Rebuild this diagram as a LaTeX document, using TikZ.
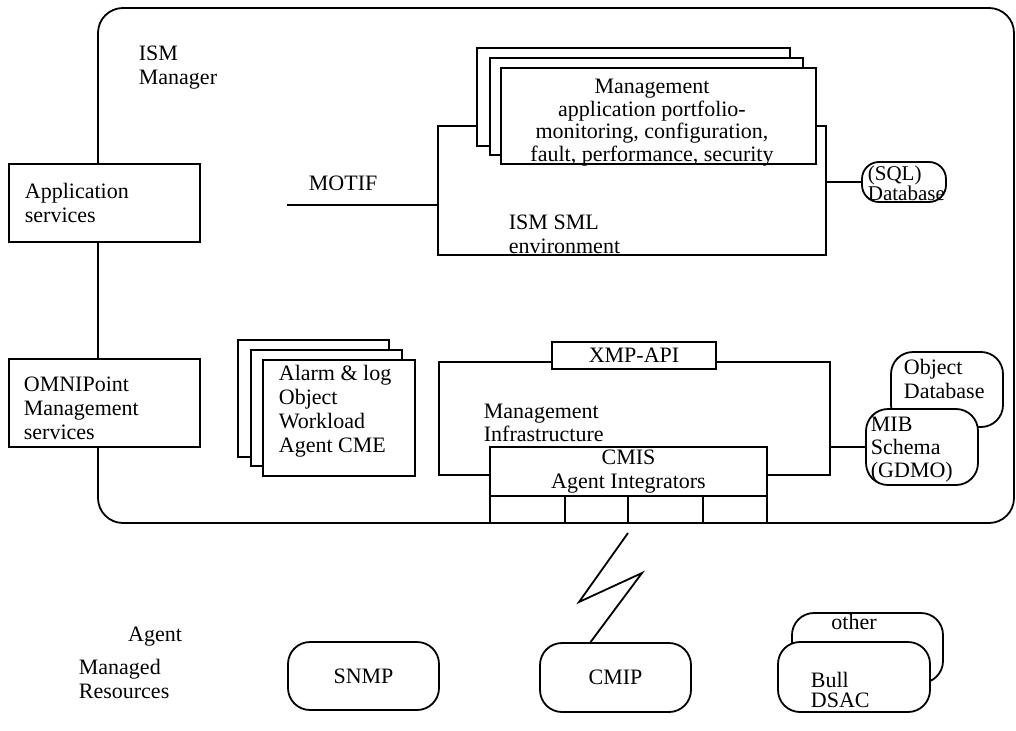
\documentclass[tikz,border=0pt]{standalone}
\usepackage{fontspec}
\setmainfont{Liberation Serif}

\tikzset{
  blk/.style={draw, fill=white, inner sep=0pt},
  rnd/.style={draw, fill=white, inner sep=0pt, rounded corners=22pt},
  txt/.style={inner sep=0pt, align=left},
}

\begin{document}
\begin{tikzpicture}[x=1pt, y=-1pt, line width=1.8pt, every node/.append style={font=\fontsize{22}{24}\selectfont}]
\useasboundingbox (0,0) rectangle (1016,730);

% manager frame
\draw[rounded corners=25pt] (98,8) rectangle (1014,523);
\node[txt, anchor=west] (ismmgr) at (138,67.5) {ISM\\Manager};

% services on the left
\node[blk, minimum width=191pt, minimum height=78pt] (appsrv) at (104.5,203) {};
\node[txt, anchor=west] (apptxt) at (24,202.5) {Application\\services};
\node[blk, minimum width=191pt, minimum height=88pt] (omnisrv) at (104.5,403) {};
\node[txt, anchor=west] (omnitxt) at (23,408) {OMNIPoint\\Management\\services};

% SML environment + portfolio stack
\node[blk, minimum width=387.5pt, minimum height=129pt] (smlenv) at (632,190.5) {};
\node[txt, anchor=west] (smltxt) at (508,234.5) {ISM SML\\environment};
\node[blk, minimum width=313pt, minimum height=98pt] (port3) at (633.5,97) {};
\node[blk, minimum width=313pt, minimum height=97pt] (port2) at (646.5,106.5) {};
\node[blk, minimum width=315pt, minimum height=96pt] (port1) at (658.5,116) {};
\node[txt, align=center, font=\fontsize{22}{22.5}\selectfont] (porttxt) at (652,122.5) {Management\\application portfolio-\\monitoring, configuration,\\fault, performance, security};

\node[txt, anchor=west] (motif) at (308,183) {MOTIF};
\coordinate (motifend) at (287,205);
\draw (motifend) -- (motifend -| smlenv.west);

\node[rnd, rounded corners=17pt, minimum width=84pt, minimum height=40pt] (sqldb) at (904,182) {};
\node[txt, anchor=west, font=\fontsize{21}{20}\selectfont] (sqltxt) at (867,183) {(SQL)\\Database};
\draw (smlenv.east |- sqldb.west) -- (sqldb.west);

% alarm stack
\node[blk, minimum width=151pt, minimum height=117pt] (alarm3) at (313.5,398.5) {};
\node[blk, minimum width=151pt, minimum height=116pt] (alarm2) at (326.5,408) {};
\node[blk, minimum width=152pt, minimum height=116pt] (alarm1) at (339,418) {};
\node[txt, anchor=west] (alarmtxt) at (278,411) {Alarm \& log\\Object\\Workload\\Agent CME};

% management infrastructure
\node[blk, minimum width=391pt, minimum height=113pt] (mgmtinfra) at (634.5,418.5) {};
\node[txt, anchor=west, font=\fontsize{22}{23}\selectfont] (infratxt) at (483,423) {Management\\Infrastructure};
\node[blk, minimum width=164pt, minimum height=27pt] (xmpapi) at (634,355.5) {XMP-API};
\node[blk, minimum width=277pt, minimum height=49pt, align=center] (cmis) at (628.5,471.5) {CMIS\\Agent Integrators};
\foreach \cx/\cw [count=\i] in {527.5/75pt, 596.5/63pt, 665.5/75pt, 735/64pt}
  \node[blk, minimum width=\cw, minimum height=27pt] (cell\i) at (\cx,509.5) {};

% MIB and object database
\node[rnd, minimum width=112pt, minimum height=75pt] (objdb) at (947,389.5) {};
\node[txt, anchor=west] (objtxt) at (903,378.5) {Object\\Database};
\node[rnd, minimum width=112pt, minimum height=76pt] (mib) at (922,447) {};
\node[txt, anchor=west, font=\fontsize{22}{23}\selectfont] (mibtxt) at (870,450) {MIB\\Schema\\(GDMO)};
\draw (mgmtinfra.east |- mib.west) -- (mib.west);

% agents
\node[txt] (agent) at (155,637) {Agent};
\node[txt, anchor=west] (managed) at (78,679) {Managed\\Resources};
\node[rnd, minimum width=151pt, minimum height=68pt] (snmp) at (363.5,676) {SNMP};
\node[rnd, minimum width=151pt, minimum height=69pt] (cmip) at (615.5,677.5) {CMIP};
\node[rnd, minimum width=151pt, minimum height=70pt] (other) at (867.5,648) {};
\node[txt] (othertxt) at (854,622) {other};
\node[rnd, minimum width=152pt, minimum height=70pt] (bull) at (854,677) {};
\node[txt, anchor=west, font=\fontsize{22}{20}\selectfont] (bulltxt) at (810,690) {Bull\\DSAC};

% link to CMIP agent
\coordinate (bolttop) at (628,533);
\draw (bolttop) -- (579,602) -- (642,573) -- ([xshift=-25pt]cmip.north);

\end{tikzpicture}
\end{document}
